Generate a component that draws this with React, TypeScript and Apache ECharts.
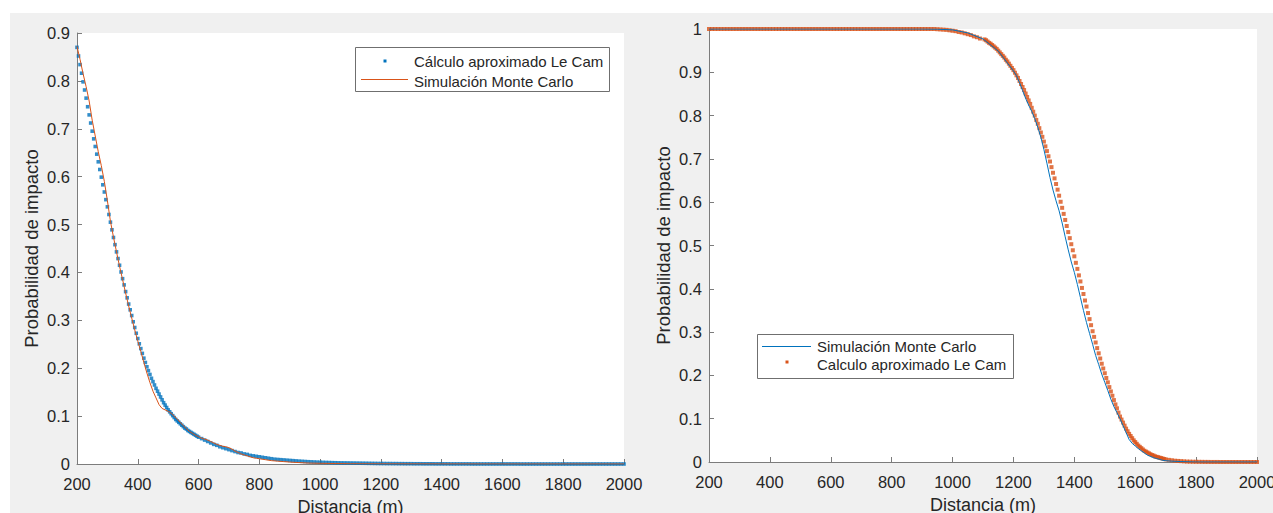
import React, { useEffect, useRef } from "react";
import * as echarts from "echarts";

// ---------- Data ----------
// Left panel: Le Cam approximation, sampled every 5 m from 200 to 600 m
const LEFT_LECAM_FINE = [
  0.870, 0.852, 0.834, 0.816, 0.798, 0.781, 0.764, 0.746, 0.729, 0.712,
  0.695, 0.679, 0.663, 0.647, 0.631, 0.615, 0.599, 0.583, 0.568, 0.552,
  0.537, 0.521, 0.505, 0.489, 0.473, 0.458, 0.443, 0.429, 0.415, 0.401,
  0.387, 0.374, 0.360, 0.347, 0.334, 0.322, 0.310, 0.297, 0.285, 0.273,
  0.262, 0.251, 0.241, 0.231, 0.221, 0.212, 0.203, 0.195, 0.187, 0.179,
  0.172, 0.165, 0.158, 0.152, 0.146, 0.140, 0.134, 0.128, 0.123, 0.118,
  0.113, 0.109, 0.105, 0.101, 0.097, 0.093, 0.090, 0.087, 0.084, 0.081,
  0.078, 0.075, 0.073, 0.070, 0.068, 0.066, 0.064, 0.062, 0.060, 0.058,
  0.056,
];
// ... then every 10 m from 610 to 2000 m
const LEFT_LECAM_COARSE = [
  0.053, 0.050, 0.047, 0.044, 0.041, 0.039, 0.036, 0.034, 0.032, 0.030,
  0.028, 0.026, 0.024, 0.023, 0.021, 0.020, 0.018, 0.017, 0.016, 0.015,
  0.014, 0.013, 0.012, 0.011, 0.010, 0.0095, 0.009, 0.0085, 0.008, 0.0075,
  0.007, 0.0065, 0.006, 0.0056, 0.0052, 0.0048, 0.0045, 0.0042, 0.0039, 0.0036,
  0.0034, 0.0032, 0.0030, 0.0028, 0.0026, 0.0024, 0.0023, 0.0022, 0.0021, 0.0020,
  0.0019, 0.0018, 0.0017, 0.0016, 0.0015, 0.0014, 0.0013, 0.0012, 0.0011, 0.0010,
  0.0010, 0.0009, 0.0009, 0.0008, 0.0008, 0.0007, 0.0007, 0.0006, 0.0006, 0.0006,
  0.0005, 0.0005, 0.0005, 0.0004, 0.0004, 0.0004, 0.0004, 0.0003, 0.0003, 0.0003,
  0.0003, 0.0003, 0.0002, 0.0002, 0.0002, 0.0002, 0.0002, 0.0002, 0.0002, 0.0001,
  0.0001, 0.0001, 0.0001, 0.0001, 0.0001, 0.0001, 0.0001, 0.0001, 0.0001, 0.0001,
  0.0001, 0.0001, 0.0001, 0.0001, 0.0001, 0, 0, 0, 0, 0,
  0, 0, 0, 0, 0, 0, 0, 0, 0, 0,
  0, 0, 0, 0, 0, 0, 0, 0, 0, 0,
  0, 0, 0, 0, 0, 0, 0, 0, 0, 0,
];

// Left panel: Monte Carlo simulation
const LEFT_MC_X = [
  200, 210, 220, 230, 240, 250, 260, 270, 280, 290,
  300, 310, 320, 330, 340, 350, 360, 370, 380, 390,
  400, 410, 420, 430, 440, 450, 460, 470, 480, 490,
  500, 510, 520, 530, 540, 550, 560, 570, 580, 590,
  600, 610, 620, 630, 640, 650, 660, 670, 680, 690,
  700, 710, 720, 730, 740, 750, 760, 770, 780, 790,
  800, 820, 840, 860, 880, 900, 930, 960, 1000, 1050,
  1100, 1200, 1400, 1600, 2000,
];
const LEFT_MC_Y = [
  0.872, 0.845, 0.815, 0.788, 0.758, 0.718, 0.685, 0.652, 0.623, 0.590,
  0.550, 0.507, 0.474, 0.443, 0.413, 0.385, 0.357, 0.330, 0.305, 0.280,
  0.257, 0.235, 0.212, 0.190, 0.170, 0.152, 0.138, 0.124, 0.116, 0.113,
  0.110, 0.106, 0.100, 0.094, 0.087, 0.080, 0.074, 0.068, 0.064, 0.060,
  0.057, 0.054, 0.052, 0.050, 0.047, 0.044, 0.041, 0.039, 0.037, 0.036,
  0.034, 0.031, 0.027, 0.024, 0.021, 0.019, 0.017, 0.015, 0.013, 0.012,
  0.011, 0.009, 0.007, 0.006, 0.005, 0.004, 0.003, 0.002, 0.0015, 0.001,
  0.0005, 0.0003, 0.0001, 0, 0,
];

// Right panel: Le Cam approximation, every 10 m from 200 to 1100 m
const RIGHT_LECAM_TOP = [
  1, 1, 1, 1, 1, 1, 1, 1, 1, 1,
  1, 1, 1, 1, 1, 1, 1, 1, 1, 1,
  1, 1, 1, 1, 1, 1, 1, 1, 1, 1,
  1, 1, 1, 1, 1, 1, 1, 1, 1, 1,
  1, 1, 1, 1, 1, 1, 1, 1, 1, 1,
  1, 1, 1, 1, 1, 1, 1, 1, 1, 1,
  1, 1, 1, 1, 1, 1, 1, 1, 1, 1,
  1, 1, 1, 1, 1, 0.9995, 0.999, 0.9985, 0.998, 0.997,
  0.996, 0.995, 0.993, 0.992, 0.990, 0.988, 0.986, 0.983, 0.981, 0.978,
];
// ... every 5 m from 1105 to 1700 m
const RIGHT_LECAM_FALL = [
  0.976, 0.974, 0.971, 0.968, 0.966, 0.963, 0.960, 0.957, 0.954, 0.950,
  0.946, 0.942, 0.938, 0.934, 0.929, 0.925, 0.920, 0.915, 0.910, 0.905,
  0.899, 0.893, 0.887, 0.880, 0.873, 0.866, 0.859, 0.851, 0.843, 0.835,
  0.827, 0.818, 0.809, 0.800, 0.790, 0.781, 0.771, 0.761, 0.751, 0.740,
  0.729, 0.718, 0.706, 0.694, 0.681, 0.668, 0.655, 0.642, 0.629, 0.615,
  0.601, 0.587, 0.573, 0.559, 0.545, 0.531, 0.517, 0.503, 0.489, 0.475,
  0.460, 0.446, 0.431, 0.417, 0.402, 0.388, 0.373, 0.359, 0.344, 0.330,
  0.316, 0.302, 0.289, 0.276, 0.263, 0.251, 0.239, 0.227, 0.216, 0.205,
  0.194, 0.184, 0.173, 0.163, 0.153, 0.143, 0.133, 0.124, 0.114, 0.105,
  0.098, 0.091, 0.084, 0.077, 0.071, 0.065, 0.060, 0.055, 0.050, 0.046,
  0.042, 0.038, 0.035, 0.032, 0.029, 0.026, 0.024, 0.022, 0.020, 0.018,
  0.016, 0.015, 0.013, 0.012, 0.011, 0.010, 0.009, 0.008, 0.007, 0.006,
];
// ... every 10 m from 1710 to 2000 m
const RIGHT_LECAM_TAIL = [
  0.005, 0.004, 0.003, 0.0025, 0.002, 0.0015, 0.001, 0.0008, 0.0006, 0.0005,
  0.0004, 0.0003, 0.0002, 0.0002, 0.0001, 0.0001, 0.0001, 0, 0, 0,
  0, 0, 0, 0, 0, 0, 0, 0, 0, 0,
];

// Right panel: Monte Carlo simulation
const RIGHT_MC_X = [
  200, 900, 950, 1000, 1050, 1100, 1150, 1200, 1210, 1220,
  1230, 1240, 1250, 1260, 1270, 1280, 1290, 1300, 1310, 1320,
  1330, 1340, 1350, 1360, 1370, 1380, 1390, 1400, 1410, 1420,
  1430, 1440, 1450, 1460, 1470, 1480, 1490, 1500, 1510, 1520,
  1530, 1540, 1550, 1560, 1570, 1580, 1590, 1600, 1610, 1620,
  1630, 1640, 1650, 1660, 1670, 1680, 1690, 1700, 1720, 1750,
  1800, 2000,
];
const RIGHT_MC_Y = [
  1, 1, 0.9995, 0.998, 0.991, 0.977, 0.949, 0.903, 0.892, 0.876,
  0.858, 0.840, 0.824, 0.810, 0.793, 0.773, 0.750, 0.722, 0.690, 0.657,
  0.628, 0.603, 0.580, 0.552, 0.520, 0.490, 0.462, 0.438, 0.410, 0.380,
  0.350, 0.322, 0.297, 0.272, 0.246, 0.225, 0.203, 0.184, 0.165, 0.145,
  0.128, 0.114, 0.100, 0.084, 0.068, 0.052, 0.043, 0.037, 0.031, 0.026,
  0.021, 0.016, 0.013, 0.010, 0.008, 0.006, 0.004, 0.003, 0.002, 0.001,
  0, 0,
];

// ---------- Helpers ----------
const sampled = (start: number, step: number, values: number[]) =>
  values.map((v, i) => [start + i * step, v]);
const zip = (xs: number[], ys: number[]) => xs.map((x, i) => [x, ys[i]]);

const TEXT = "#262626";
const AXIS = "#7c7c7c";
const BLUE = "#0072BD";
const ORANGE = "#D95319";
const FONT = '"Liberation Sans", Arial, Helvetica, sans-serif';

const xAxisFor = (gridIndex: number) => ({
  gridIndex,
  type: "value",
  min: 200,
  max: 2000,
  interval: 200,
  name: "Distancia (m)",
  nameLocation: "middle",
  nameGap: 34,
  nameTextStyle: { fontSize: 18, color: TEXT, fontFamily: FONT },
  axisLine: { show: true, onZero: false, lineStyle: { color: AXIS, width: 1 } },
  axisTick: { show: true, inside: true, length: 5, lineStyle: { color: AXIS } },
  axisLabel: {
    margin: 11,
    fontSize: 16.5,
    color: TEXT,
    fontFamily: FONT,
    formatter: (v: number) => String(v),
  },
  splitLine: { show: false },
});

const yAxisFor = (gridIndex: number, max: number) => ({
  gridIndex,
  type: "value",
  min: 0,
  max,
  interval: 0.1,
  name: "Probabilidad de impacto",
  nameLocation: "middle",
  nameGap: 36,
  nameTextStyle: { fontSize: 18.5, color: TEXT, fontFamily: FONT },
  axisLine: { show: true, onZero: false, lineStyle: { color: AXIS, width: 1 } },
  axisTick: { show: true, inside: true, length: 5, lineStyle: { color: AXIS } },
  axisLabel: {
    margin: 7,
    fontSize: 16.5,
    color: TEXT,
    fontFamily: FONT,
    formatter: (v: number) => String(Math.round(v * 10) / 10),
  },
  splitLine: { show: false },
});

const legendText = (text: string, x: number, y: number) => ({
  type: "text",
  z: 101,
  style: {
    text,
    x,
    y,
    fill: TEXT,
    font: `15px ${FONT}`,
    textAlign: "left",
    textVerticalAlign: "middle",
    align: "left",
    verticalAlign: "middle",
  },
});

export default function App() {
  const ref = useRef<HTMLDivElement>(null);

  useEffect(() => {
    if (!ref.current) return;
    const chart = echarts.init(ref.current, undefined, { renderer: "svg" });

    const gridBase = {
      show: true,
      backgroundColor: "#ffffff",
      borderWidth: 0,
      containLabel: false,
      outerBoundsMode: "none",
    };

    const option = {
      animation: false,
      backgroundColor: "#ffffff",
      grid: [
        { ...gridBase, left: 77, top: 33, width: 547, height: 431 },
        { ...gridBase, left: 709, top: 29, width: 548, height: 433 },
      ],
      xAxis: [xAxisFor(0), xAxisFor(1)],
      yAxis: [yAxisFor(0, 0.9), yAxisFor(1, 1)],
      series: [
        {
          name: "Cálculo aproximado Le Cam",
          type: "scatter",
          xAxisIndex: 0,
          yAxisIndex: 0,
          symbol: "rect",
          symbolSize: 3.6,
          clip: false,
          itemStyle: { color: BLUE },
          data: [
            ...sampled(200, 5, LEFT_LECAM_FINE),
            ...sampled(610, 10, LEFT_LECAM_COARSE),
          ],
        },
        {
          name: "Simulación Monte Carlo",
          type: "line",
          xAxisIndex: 0,
          yAxisIndex: 0,
          showSymbol: false,
          symbol: "none",
          lineStyle: { color: ORANGE, width: 1 },
          data: zip(LEFT_MC_X, LEFT_MC_Y),
        },
        {
          name: "Simulación Monte Carlo ",
          type: "line",
          xAxisIndex: 1,
          yAxisIndex: 1,
          showSymbol: false,
          symbol: "none",
          lineStyle: { color: BLUE, width: 1 },
          data: zip(RIGHT_MC_X, RIGHT_MC_Y),
        },
        {
          name: "Calculo aproximado Le Cam",
          type: "scatter",
          xAxisIndex: 1,
          yAxisIndex: 1,
          symbol: "rect",
          symbolSize: 4,
          clip: false,
          itemStyle: { color: ORANGE },
          data: [
            ...sampled(200, 10, RIGHT_LECAM_TOP),
            ...sampled(1105, 5, RIGHT_LECAM_FALL),
            ...sampled(1710, 10, RIGHT_LECAM_TAIL),
          ],
        },
      ],
      graphic: [
        // figure background
        {
          type: "rect",
          z: -10,
          shape: { x: 10, y: 13, width: 1263, height: 500 },
          style: { fill: "#f0f0f0" },
        },
        // left legend
        {
          type: "rect",
          z: 100,
          shape: { x: 355.5, y: 47.5, width: 254, height: 44 },
          style: { fill: "#ffffff", stroke: "#6f6f6f", lineWidth: 1 },
        },
        {
          type: "rect",
          z: 101,
          shape: { x: 383.5, y: 59.5, width: 3, height: 3 },
          style: { fill: BLUE },
        },
        legendText("Cálculo aproximado Le Cam", 414, 61),
        {
          type: "line",
          z: 101,
          shape: { x1: 361, y1: 79.5, x2: 408, y2: 79.5 },
          style: { stroke: ORANGE, lineWidth: 1 },
        },
        legendText("Simulación Monte Carlo", 414, 81),
        // right legend
        {
          type: "rect",
          z: 100,
          shape: { x: 757.5, y: 334.5, width: 256, height: 44 },
          style: { fill: "#ffffff", stroke: "#6f6f6f", lineWidth: 1 },
        },
        {
          type: "line",
          z: 101,
          shape: { x1: 762, y1: 346.5, x2: 811, y2: 346.5 },
          style: { stroke: BLUE, lineWidth: 1 },
        },
        legendText("Simulación Monte Carlo", 817, 346),
        {
          type: "rect",
          z: 101,
          shape: { x: 785.5, y: 360.5, width: 3, height: 3 },
          style: { fill: ORANGE },
        },
        legendText("Calculo aproximado Le Cam", 817, 364),
      ],
    };

    chart.setOption(option as any);
    return () => chart.dispose();
  }, []);

  return (
    <div
      ref={ref}
      style={{ position: "fixed", left: 0, top: 0, width: 1273, height: 513 }}
    />
  );
}
